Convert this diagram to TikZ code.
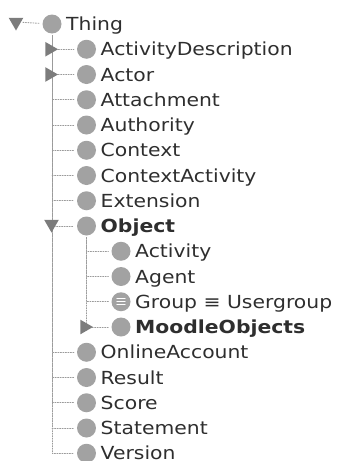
\documentclass[tikz,border=0pt]{standalone}
\usepackage{fontspec}
\setmainfont[FakeStretch=1.13]{DejaVu Sans}
\usetikzlibrary{shapes.geometric}
\definecolor{ballgray}{HTML}{A2A2A2}
\definecolor{tipgray}{HTML}{7C7C7C}
\definecolor{dotgray}{HTML}{9A9A9A}
\definecolor{labelgray}{HTML}{2E2E2E}
\begin{document}
\begin{tikzpicture}[x=1pt,y=-1pt,line cap=round]
	\tikzset{ball/.style={circle,fill=ballgray,minimum size=19pt,inner sep=0pt},
		lbl/.style={anchor=base west,inner sep=0pt,text=labelgray,font=\fontsize{18}{20}\selectfont},
		twig/.style={draw=dotgray,line width=0.9pt,dash pattern=on 0.9pt off 1.6pt,shorten >=3pt,shorten <=2pt},
		tipdown/.style={regular polygon,regular polygon sides=3,shape border rotate=180,fill=tipgray,inner sep=0pt,minimum size=17pt},
		tipright/.style={regular polygon,regular polygon sides=3,shape border rotate=-90,fill=tipgray,inner sep=0pt,minimum size=17pt}}
	\useasboundingbox (0,0) rectangle (340,461);
	% one row every 25.25pt, one level every 34.5pt
	\foreach \row/\lev/\key/\txt in {0/0/thing/Thing, 1/1/actdesc/ActivityDescription, 2/1/actor/Actor,
		3/1/attach/Attachment, 4/1/authority/Authority, 5/1/context/Context, 6/1/ctxact/ContextActivity,
		7/1/extension/Extension, 8/1/object/\textbf{Object}, 9/2/activity/Activity, 10/2/agent/Agent,
		11/2/group/{Group ≡ Usergroup}, 12/2/moodle/\textbf{MoodleObjects}, 13/1/online/OnlineAccount,
		14/1/result/Result, 15/1/score/Score, 16/1/statement/Statement, 17/1/version/Version}{
		\pgfmathsetmacro\yr{24+25.25*\row}
		\pgfmathsetmacro\xb{52+34.5*\lev}
		\node[ball] (b-\key) at (\xb,\yr) {};
		\node[lbl] (t-\key) at (\xb+14,\yr+6.5) {\txt};
	}
	% equivalent class mark
	\foreach \dy in {-3,0,3}
		\draw[white,line width=1.3pt] ([xshift=-4pt,yshift=\dy pt]b-group.center) -- ++(8,0);
	% tree lines
	\foreach \key in {actdesc,actor,attach,authority,context,ctxact,extension,object,online,result,score,statement,version}
		\draw[twig] (b-thing.south) |- (b-\key.west);
	\foreach \key in {activity,agent,group,moodle}
		\draw[twig] (b-object.south) |- (b-\key.west);
	% expand / collapse tips
	\node[tipdown] (tip-thing) at (16,22) {};
	\node[tipdown] (tip-object) at (51.5,224) {};
	\node[tipright] (tip-actdesc) at (49.5,49.25) {};
	\node[tipright] (tip-actor) at (49.5,74.5) {};
	\node[tipright] (tip-moodle) at (84.5,327) {};
	\draw[twig] (tip-thing) -- (b-thing);
\end{tikzpicture}
\end{document}
